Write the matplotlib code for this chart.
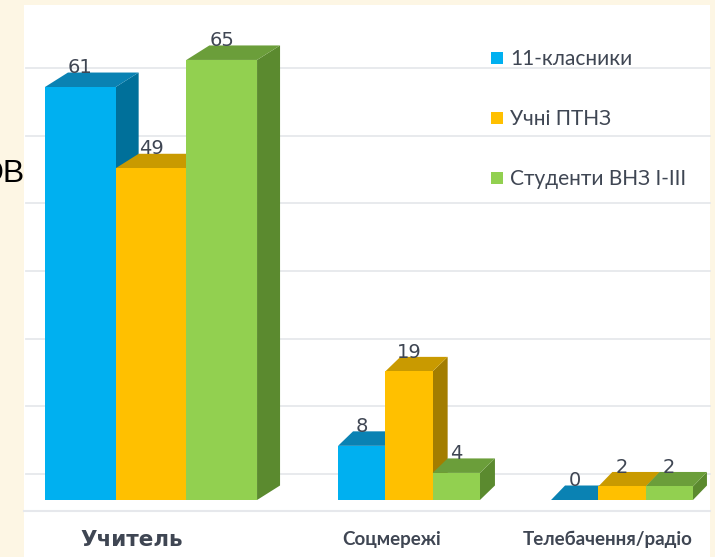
import matplotlib
matplotlib.use("Agg")
import matplotlib.pyplot as plt
from matplotlib.patches import Polygon, Rectangle

# data
categories = ["Учитель", "Соцмережі", "Телебачення/радіо"]
series_names = ["11-класники", "Учні ПТНЗ", "Студенти ВНЗ I-III"]
pupils_11 = [61, 8, 0]
ptnz = [49, 19, 2]
students = [65, 4, 2]
grid_values = [0, 10, 20, 30, 40, 50, 60]

# colours: front, top, side
front_colors = ["#00b0f0", "#ffc000", "#92d050"]
top_colors = ["#0a82b3", "#c99a00", "#6b9e3a"]
side_colors = ["#00709a", "#a37d00", "#5b8a2f"]
text_color = "#3f4653"

# layout (pixels on a 715x557 canvas, values scaled by the y axis)
W, H = 715, 557
BASE_PX = 500        # where value 0 sits on the front
PX_PER_UNIT = 6.77
group_centers = [151, 409, 622]
bar_widths = [70.7, 47.3, 47.3]
depth_dx = [23, 15, 14]
DEPTH_DY = 14.5 / PX_PER_UNIT
WALL_LIFT = 26 / PX_PER_UNIT


def px_to_val(py):
    return (BASE_PX - py) / PX_PER_UNIT


fig = plt.figure(figsize=(W / 100, H / 100), dpi=100)
fig.patch.set_facecolor("#fdf6e4")
ax = fig.add_axes([0, 0, 1, 1])
ax.set_xlim(0, W)
ax.set_ylim(px_to_val(H), px_to_val(0))
ax.axis("off")

# white slide area
ax.add_patch(Rectangle((24, px_to_val(H)), 686, px_to_val(5) - px_to_val(H),
                       facecolor="white", edgecolor="none", zorder=1))
# leftover title text peeking from behind
ax.text(24.5, px_to_val(174), "ОВ", fontsize=23, family="Liberation Sans",
        ha="right", va="center", color="black", zorder=0.5)

# back wall grid lines and floor edge
for g in grid_values:
    ax.plot([26, 710], [g + WALL_LIFT] * 2, color="#e6e8ec", lw=1.3, zorder=2)
ax.plot([24, 710], [px_to_val(511)] * 2, color="#e6e8ec", lw=1.5, zorder=2)

series = [pupils_11, ptnz, students]
for gi, cx in enumerate(group_centers):
    w = bar_widths[gi]
    dx = depth_dx[gi]
    for si, vals in enumerate(series):
        v = vals[gi]
        left = cx - 1.5 * w + si * w
        side = Polygon([(left + w, 0), (left + w + dx, DEPTH_DY),
                        (left + w + dx, v + DEPTH_DY), (left + w, v)],
                       closed=True, facecolor=side_colors[si], edgecolor="none", zorder=3)
        top = Polygon([(left, v), (left + w, v), (left + w + dx, v + DEPTH_DY),
                       (left + dx, v + DEPTH_DY)],
                      closed=True, facecolor=top_colors[si], edgecolor="none", zorder=3)
        ax.add_patch(side)
        ax.add_patch(top)
        ax.bar(left, v, width=w, align="edge", color=front_colors[si], zorder=3)
        ax.text(left + w / 2, v + DEPTH_DY - 0.1, str(v), ha="center", va="baseline",
                fontsize=14, color=text_color, zorder=4)

# category labels
label_x = [132, 392, 608]
ax.text(label_x[0], px_to_val(540), categories[0], ha="center", va="center",
        fontsize=15.5, fontweight="bold", family="DejaVu Sans", color=text_color, zorder=4)
for i in (1, 2):
    ax.text(label_x[i], px_to_val(539), categories[i], ha="center", va="center",
            fontsize=13.5, fontweight="bold", family=["Lato", "DejaVu Sans"],
            color=text_color, zorder=4)

# legend
legend_y = [58, 118, 178]
for si, name in enumerate(series_names):
    ax.add_patch(Rectangle((491, px_to_val(legend_y[si] + 6)), 12, 12 / PX_PER_UNIT,
                           facecolor=front_colors[si], edgecolor="none", zorder=4))
    ax.text(510, px_to_val(legend_y[si] + 1), name, ha="left", va="center",
            fontsize=15, family=["Lato", "DejaVu Sans"], color=text_color, zorder=4)

fig.savefig("out.png", dpi=100, facecolor=fig.get_facecolor())
